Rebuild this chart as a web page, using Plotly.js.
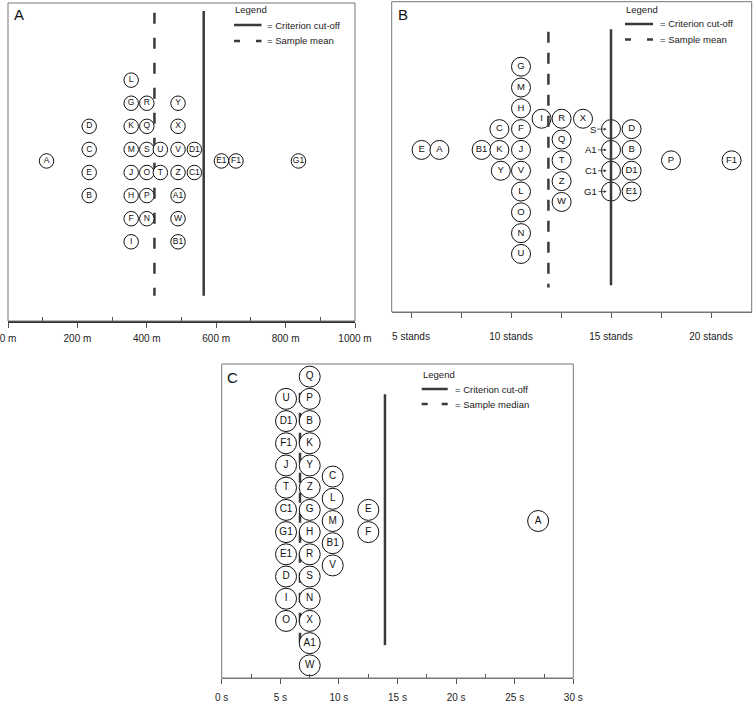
<!DOCTYPE html>
<html><head><meta charset="utf-8">
<script src="https://cdn.plot.ly/plotly-3.0.1.min.js"></script>
<style>html,body{margin:0;padding:0;background:#fff;}#chart{width:753px;height:702px;}</style>
</head><body><div id="chart"></div>
<script>
// ---------- DATA ----------
// Panel A (distance, m)
const labelsA = ['A','D','C','E','B','L','G','K','M','J','H','F','I','R','Q','S','O','P','N','U','T','Y','X','V','Z','A1','W','B1','D1','C1','E1','F1','G1'];
const valuesA = [111,234,234,234,234,355,355,355,355,355,355,355,355,400,400,400,400,400,400,439,439,490,490,490,490,490,490,490,537,537,615,657,837];
const rowsA   = [0,1.5,0.5,-0.5,-1.5,3.5,2.5,1.5,0.5,-0.5,-1.5,-2.5,-3.5,2.5,1.5,0.5,-0.5,-1.5,-2.5,0.5,-0.5,2.5,1.5,0.5,-0.5,-1.5,-2.5,-3.5,0.5,-0.5,0,0,0];
const meanA = 422, cutoffA = 564;
const tickValsA = [0,200,400,600,800,1000];
const tickTextA = ['0 m','200 m','400 m','600 m','800 m','1000 m'];
const minorA = [100,300,500,700,900];

// Panel B (stands)
const labelsB = ['E','A','B1','C','K','Y','G','M','H','F','J','V','L','O','N','U','I','R','Q','T','Z','W','X','S','A1','C1','G1','D','B','D1','E1','P','F1'];
const valuesB = [5.53,6.42,8.53,9.42,9.42,9.49,10.5,10.5,10.5,10.5,10.5,10.5,10.5,10.5,10.5,10.5,11.53,12.53,12.53,12.53,12.53,12.53,13.6,15,15,15,15,16.03,16.03,16.03,16.03,18,21.03];
const rowsB   = [0,0,0,1,0,-1,4,3,2,1,0,-1,-2,-3,-4,-5,1.5,1.5,0.5,-0.5,-1.5,-2.5,1.5,1,0,-1,-2,1,0,-1,-2,-0.5,-0.5];
const calloutB = ['S','A1','C1','G1'];
const meanB = 11.87, cutoffB = 15;
const tickValsB = [5,10,15,20];
const tickTextB = ['5 stands','10 stands','15 stands','20 stands'];
const minorB = [7.5,12.5,17.5];

// Panel C (seconds)
const labelsC = ['U','D1','F1','J','T','C1','G1','E1','D','I','O','Q','P','B','K','Y','Z','G','H','R','S','N','X','A1','W','C','L','M','B1','V','E','F','A'];
const valuesC = [5.49,5.49,5.49,5.49,5.49,5.49,5.49,5.49,5.49,5.49,5.49,7.51,7.51,7.51,7.51,7.51,7.51,7.51,7.51,7.51,7.51,7.51,7.51,7.51,7.51,9.47,9.47,9.47,9.47,9.47,12.51,12.51,27.0];
const rowsC   = [5.5,4.5,3.5,2.5,1.5,0.5,-0.5,-1.5,-2.5,-3.5,-4.5,6.5,5.5,4.5,3.5,2.5,1.5,0.5,-0.5,-1.5,-2.5,-3.5,-4.5,-5.5,-6.5,2,1,0,-1,-2,0.5,-0.5,0];
const medianC = 6.68, cutoffC = 13.93;
const tickValsC = [0,5,10,15,20,25,30];
const tickTextC = ['0 s','5 s','10 s','15 s','20 s','25 s','30 s'];
const minorC = [2.5,7.5,12.5,17.5,22.5,27.5];

// ---------- LAYOUT HELPERS ----------
const W = 753, H = 702;
const px = x => x / W;
const py = y => 1 - y / H;
const FONT = 'Liberation Sans, Arial, Helvetica, sans-serif';
const INK = '#222';

function circles(xs, ys, labels, size, fsize, xa, ya, hide) {
  return {
    type: 'scatter', mode: 'markers+text', x: xs, y: ys, xaxis: xa, yaxis: ya,
    text: labels.map(l => (hide && hide.indexOf(l) >= 0) ? '' : l),
    textposition: 'middle center',
    textfont: {family: FONT, size: fsize, color: '#111'},
    marker: {symbol: 'circle', size: size, color: 'rgba(255,255,255,1)', line: {color: '#111', width: 1}},
    cliponaxis: false, hoverinfo: 'skip', showlegend: false
  };
}
function vline(x, y0, y1, dash, xa, ya) {
  return {
    type: 'scatter', mode: 'lines', x: [x, x], y: [y0, y1], xaxis: xa, yaxis: ya,
    line: {color: '#3a3a3a', width: 2.5, dash: dash},
    hoverinfo: 'skip', showlegend: false, cliponaxis: false
  };
}

const data = [
  // Panel A: lines under circles
  vline(meanA, 6.42, -5.84, '11px,14px', 'x', 'y'),
  vline(cutoffA, 6.49, -5.84, 'solid', 'x', 'y'),
  circles(valuesA, rowsA, labelsA, 14.5, 8.5, 'x', 'y'),
  // Panel B: lines over circles
  circles(valuesB, rowsB, labelsB, 19, 9.5, 'x2', 'y2', calloutB),
  vline(meanB, 5.68, -6.61, '11px,10px', 'x2', 'y2'),
  vline(cutoffB, 5.8, -6.5, 'solid', 'x2', 'y2'),
  // Panel C: lines under circles
  vline(medianC, 5.77, -5.5, '10px,10px', 'x3', 'y3'),
  vline(cutoffC, 5.71, -5.59, 'solid', 'x3', 'y3'),
  circles(valuesC, rowsC, labelsC, 21, 10, 'x3', 'y3')
];

function xaxisDef(dom, range, tv, tt, mv, yAnchor, opts) {
  return Object.assign({
    domain: dom, range: range, anchor: yAnchor, showgrid: false, zeroline: false,
    showline: true, linecolor: '#777', linewidth: 1,
    tickmode: 'array', tickvals: tv, ticktext: tt,
    ticks: 'outside', ticklen: 5, tickwidth: 1, tickcolor: '#555',
    ticklabeloverflow: 'allow',
    tickfont: {family: FONT, size: 10, color: INK},
    minor: {tickmode: 'array', tickvals: mv, ticks: 'inside', ticklen: 4, tickwidth: 1, tickcolor: '#555', showgrid: false},
    fixedrange: true
  }, opts || {});
}
function yaxisDef(dom, range, xAnchor) {
  return {domain: dom, range: range, anchor: xAnchor, visible: false, fixedrange: true};
}

const shapes = [];
const annotations = [];
// Frames
[['x','y'],['x2','y2'],['x3','y3']].forEach(([xa, ya]) => {
  shapes.push({type: 'rect', xref: xa + ' domain', yref: ya + ' domain', x0: 0, x1: 1, y0: 0, y1: 1,
    line: {color: '#777', width: 1}, fillcolor: 'rgba(0,0,0,0)', layer: 'above'});
});

// Custom legends
function legendBlock(x0, yTitle, ySolid, yDash, len, textX, dashPat, label2) {
  shapes.push({type: 'line', xref: 'paper', yref: 'paper', x0: px(x0), x1: px(x0 + len), y0: py(ySolid), y1: py(ySolid),
    line: {color: '#3a3a3a', width: 2.5}});
  shapes.push({type: 'line', xref: 'paper', yref: 'paper', x0: px(x0), x1: px(x0 + len), y0: py(yDash), y1: py(yDash),
    line: {color: '#3a3a3a', width: 2.5, dash: dashPat}});
  const base = {xref: 'paper', yref: 'paper', showarrow: false, xanchor: 'left', yanchor: 'middle',
    font: {family: FONT, size: 9.5, color: INK}};
  annotations.push(Object.assign({}, base, {x: px(x0 - 1), y: py(yTitle), text: 'Legend'}));
  annotations.push(Object.assign({}, base, {x: px(textX), y: py(ySolid), text: '= Criterion cut-off'}));
  annotations.push(Object.assign({}, base, {x: px(textX), y: py(yDash), text: label2}));
}
legendBlock(234, 10, 25, 41, 27.5, 265, '6px,16px', '= Sample mean');
legendBlock(625, 9.5, 24, 39.5, 28, 658, '6px,16px', '= Sample mean');
legendBlock(421.7, 374.5, 389, 404, 26, 453, '6px,14px', '= Sample median');

// Panel letters
[['A', 18.7, 14], ['B', 402.8, 14.7], ['C', 232, 377.8]].forEach(([t, x, y]) => {
  annotations.push({xref: 'paper', yref: 'paper', x: px(x), y: py(y), text: t, showarrow: false,
    xanchor: 'center', yanchor: 'middle', font: {family: FONT, size: 15, color: '#111'}});
});

// Callout labels in panel B (labels placed outside circles with arrows)
calloutB.forEach(l => {
  const i = labelsB.indexOf(l);
  annotations.push({xref: 'x2', yref: 'y2', x: valuesB[i] - 0.22, y: rowsB[i], text: l,
    showarrow: true, ax: (l === 'S' ? -14 : -16), ay: 0, arrowhead: 2, arrowsize: 0.7, arrowwidth: 0.8,
    arrowcolor: '#333', standoff: 0, startstandoff: 0,
    font: {family: FONT, size: 9.5, color: '#111'}});
});

const layout = {
  width: W, height: H, margin: {l: 0, r: 0, t: 0, b: 0},
  paper_bgcolor: '#fff', plot_bgcolor: '#fff', showlegend: false,
  xaxis: xaxisDef([px(8), px(355)], [0, 1000], tickValsA, tickTextA, minorA, 'y',
    {linecolor: '#333', linewidth: 2, ticklabelstandoff: 2}),
  yaxis: yaxisDef([py(321), py(3)], [-6.93, 6.84], 'x'),
  xaxis2: xaxisDef([px(391.7), px(751.7)], [4.035, 22.035], tickValsB, tickTextB, minorB, 'y2',
    {ticklabelstandoff: 10,
     minor: {tickmode: 'array', tickvals: minorB, ticks: 'outside', ticklen: 5, tickwidth: 1, tickcolor: '#555', showgrid: false}}),
  yaxis2: yaxisDef([py(312), py(1.7)], [-7.79, 7.125], 'x2'),
  xaxis3: xaxisDef([px(221.7), px(573.3)], [0, 30], tickValsC, tickTextC, minorC, 'y3', {ticklabelstandoff: 5}),
  yaxis3: yaxisDef([py(678), py(364)], [-7.07, 7.07], 'x3'),
  shapes: shapes, annotations: annotations
};

Plotly.newPlot('chart', data, layout, {displayModeBar: false, staticPlot: true});
</script>
</body></html>
